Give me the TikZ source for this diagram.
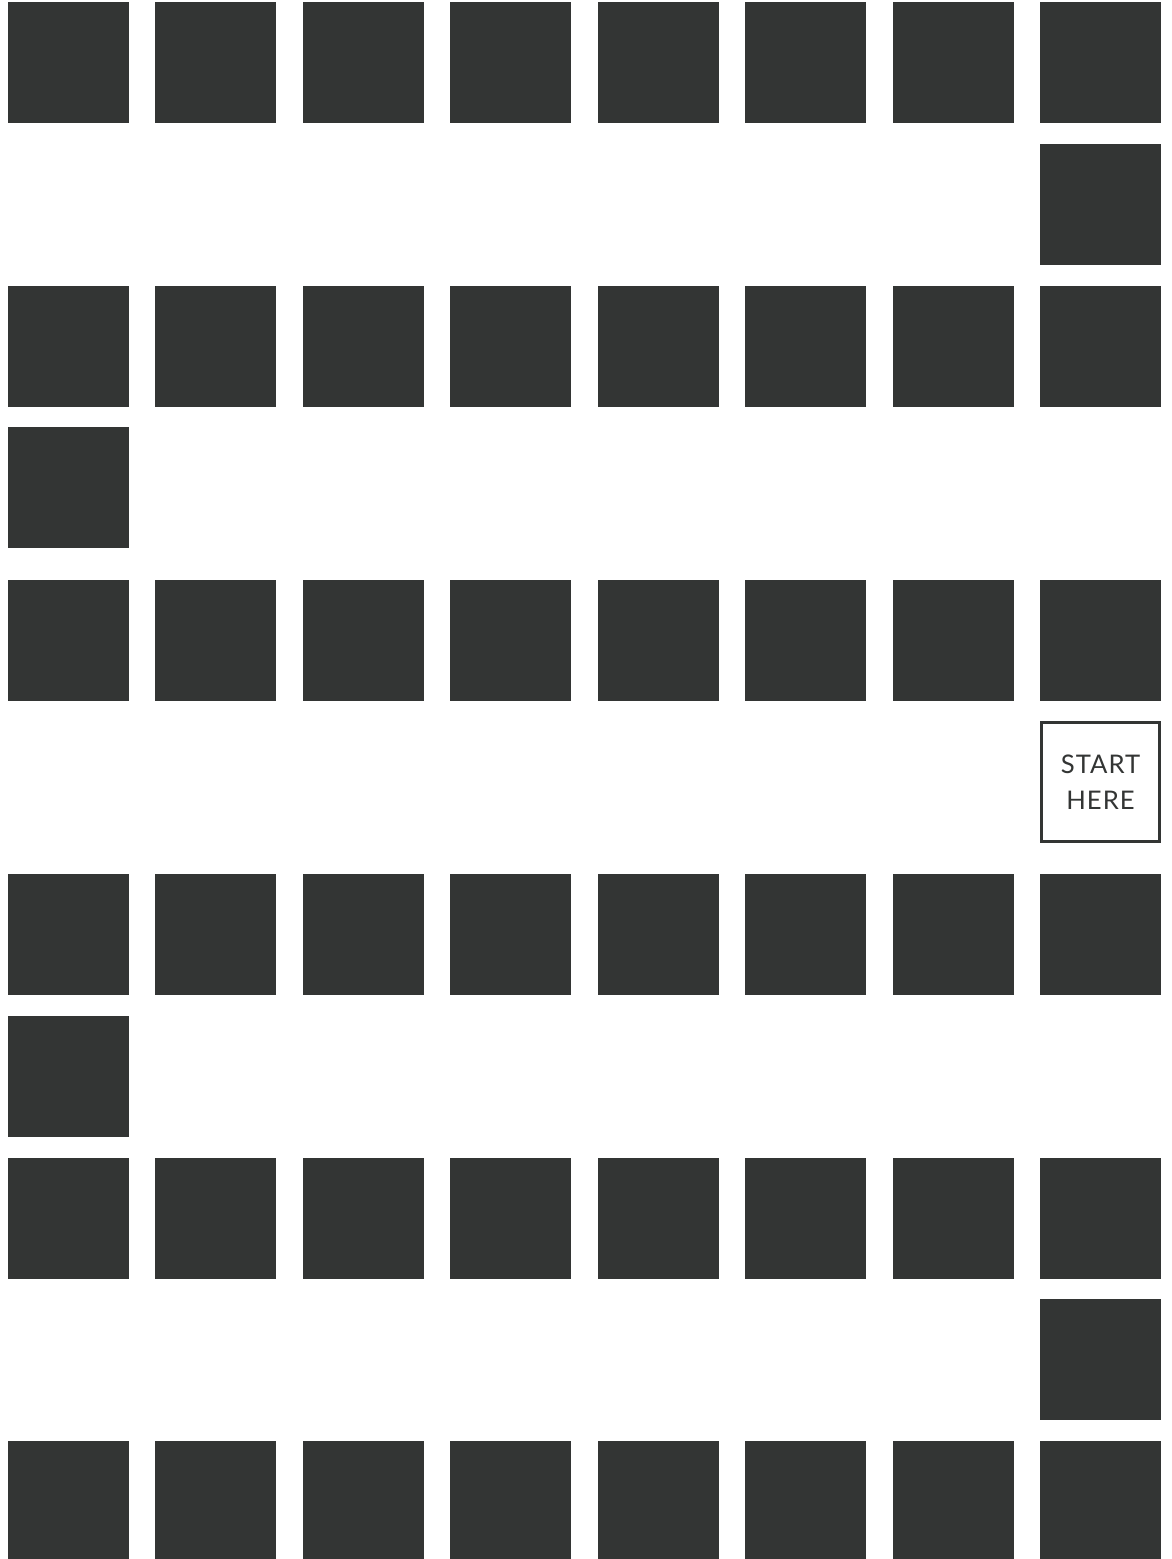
\documentclass[tikz,border=0pt]{standalone}
\usepackage{fontspec}
\setsansfont{Lato}[LetterSpace=4]
\definecolor{tiledark}{RGB}{51,53,52}

\begin{document}
\begin{tikzpicture}[
    x=0.02cm,y=-0.02cm,
    tile/.style={rectangle,fill=tiledark,inner sep=0pt,minimum size=2.42cm},
    startbox/.style={rectangle,draw=tiledark,line width=0.055cm,fill=white,
      inner sep=0pt,minimum size=2.37cm,align=center,text=tiledark,
      font=\sffamily\fontsize{14.6}{20.5}\selectfont}
  ]
    \useasboundingbox (0,0) rectangle (1171,1559);
    % full rows of tiles
    \foreach \r/\y in {1/62.5,3/346.5,5/640.5,7/934.5,9/1218.5,11/1501.5}
      \foreach \c in {1,...,8}
        \node[tile] (tile-\r-\c) at ({68.5+147.43*(\c-1)},\y) {};

    % single tiles at the turns
    \node[tile] (tile-2-8) at (1100.5,204.5) {};
    \node[tile] (tile-4-1) at (68.5,487.5) {};
    \node[tile] (tile-8-1) at (68.5,1076.5) {};
    \node[tile] (tile-10-8) at (1100.5,1359.5) {};

    \node[startbox] (start) at (1100.5,782) {START\\HERE};
  \end{tikzpicture}
\end{document}
